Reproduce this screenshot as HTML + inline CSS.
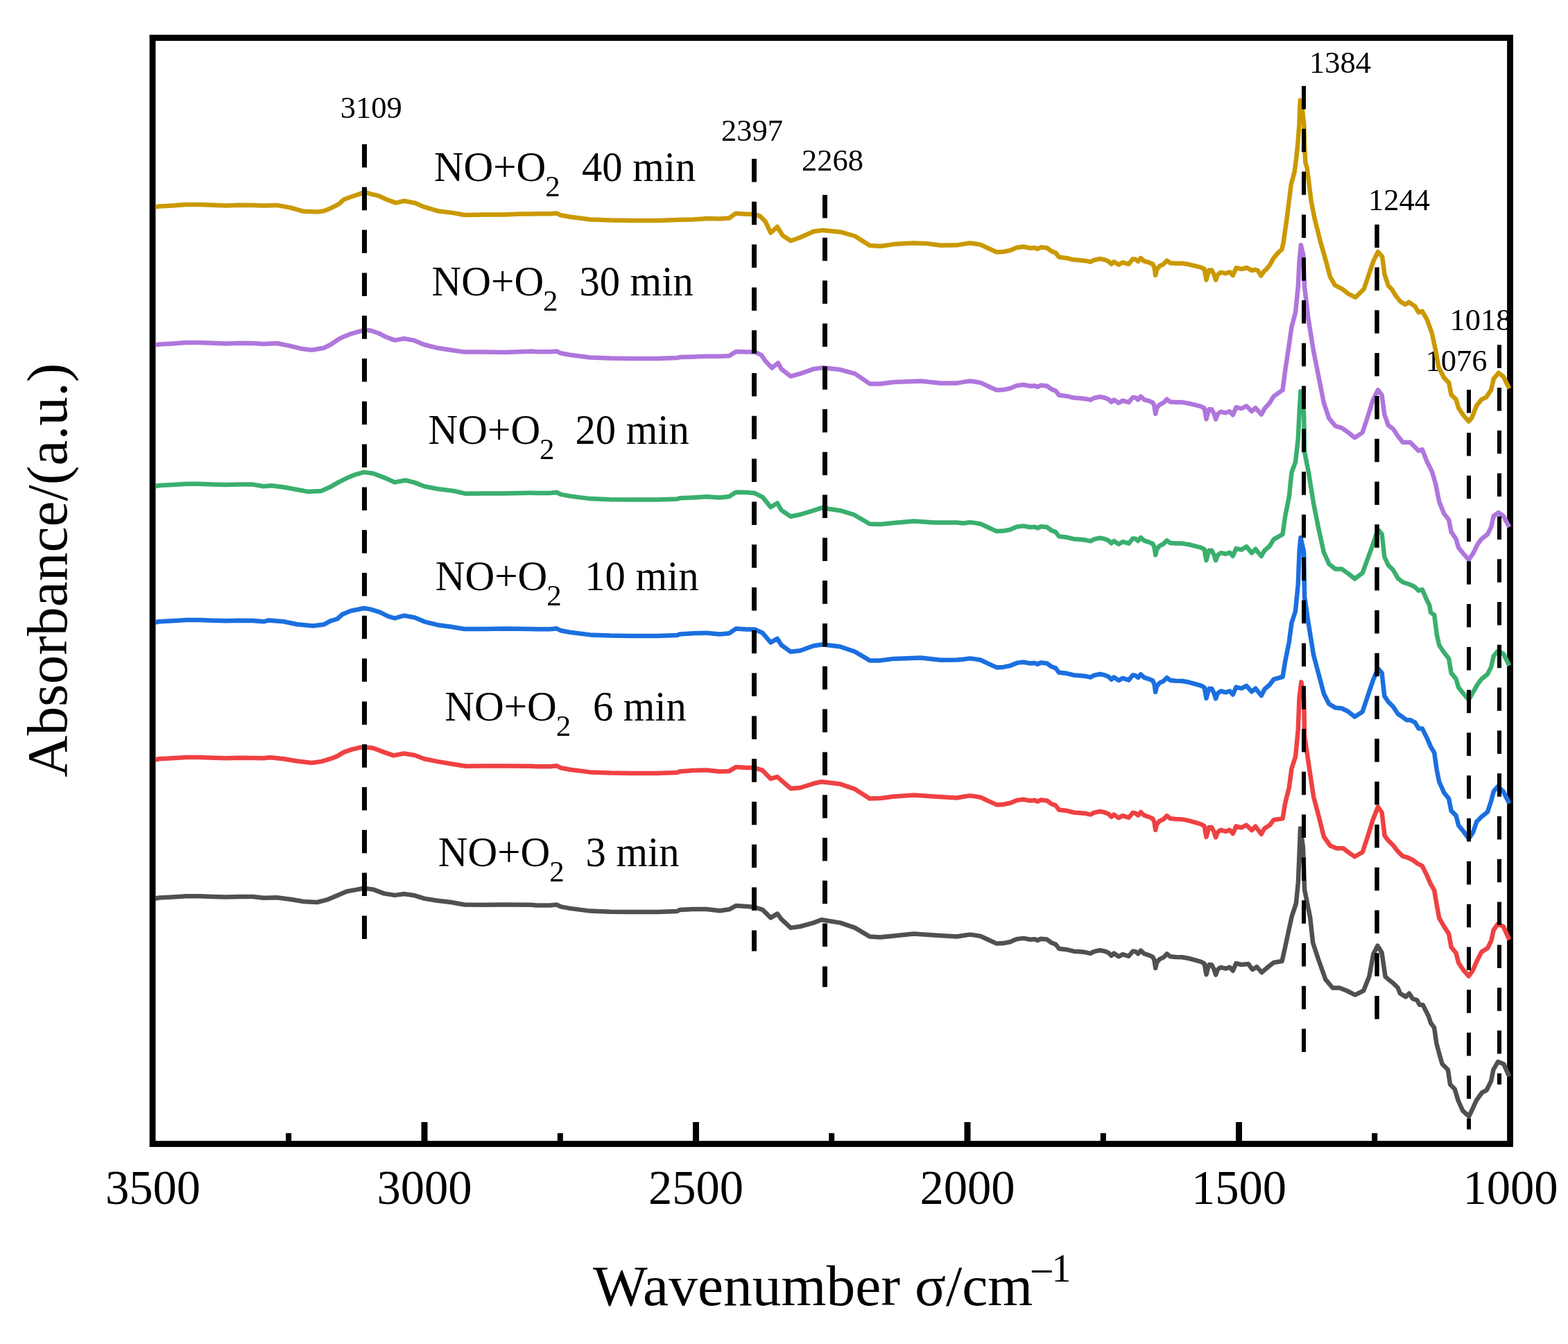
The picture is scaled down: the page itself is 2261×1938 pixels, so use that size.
<!DOCTYPE html>
<html><head><meta charset="utf-8"><title>FTIR spectra</title>
<style>html,body{margin:0;padding:0;background:#fff;}svg{display:block;}text{font-family:'Liberation Serif','Times New Roman',serif;fill:#000;}</style>
</head><body>
<svg width="2261" height="1938" viewBox="0 0 2261 1938">
<rect x="0" y="0" width="2261" height="1938" fill="#fff"/>
<defs><clipPath id="pc"><rect x="224" y="59" width="1955" height="1586"/></clipPath></defs>
<rect x="220" y="54.5" width="1957.5" height="1595" fill="none" stroke="#000" stroke-width="8.8"/>
<text transform="translate(625.7,261.4) scale(0.97,1)" font-size="61.0">NO+O</text>
<text x="786.2" y="283.4" font-size="43">2</text>
<text transform="translate(839.1,261.4) scale(0.96,1)" font-size="61.0">40 min</text>
<text transform="translate(622.6,426.4) scale(0.97,1)" font-size="61.0">NO+O</text>
<text x="783.1" y="448.4" font-size="43">2</text>
<text transform="translate(835.4,426.4) scale(0.96,1)" font-size="61.0">30 min</text>
<text transform="translate(617.6,640.4) scale(0.97,1)" font-size="61.0">NO+O</text>
<text x="778.1" y="662.4" font-size="43">2</text>
<text transform="translate(829.5,640.4) scale(0.96,1)" font-size="61.0">20 min</text>
<text transform="translate(627.7,851.2) scale(0.97,1)" font-size="61.0">NO+O</text>
<text x="788.2" y="873.2" font-size="43">2</text>
<text transform="translate(843.2,851.2) scale(0.96,1)" font-size="61.0">10 min</text>
<text transform="translate(641.3,1038.8) scale(0.97,1)" font-size="61.0">NO+O</text>
<text x="801.8" y="1060.8" font-size="43">2</text>
<text transform="translate(854.9,1038.8) scale(0.96,1)" font-size="61.0">6 min</text>
<text transform="translate(631.7,1249.4) scale(0.97,1)" font-size="61.0">NO+O</text>
<text x="792.2" y="1271.4" font-size="43">2</text>
<text transform="translate(844.5,1249.4) scale(0.96,1)" font-size="61.0">3 min</text>
<text x="490.8" y="170.0" font-size="44.5">3109</text>
<text x="1040.0" y="203.4" font-size="44.5">2397</text>
<text x="1156.0" y="246.3" font-size="44.5">2268</text>
<text x="1887.9" y="105.1" font-size="44.5">1384</text>
<text x="1972.9" y="302.9" font-size="44.5">1244</text>
<text x="2055.6" y="535.0" font-size="44.5">1076</text>
<text x="2090.5" y="475.7" font-size="44.5">1018</text>
<g clip-path="url(#pc)" fill="none" stroke-width="6.5" stroke-linejoin="round" stroke-linecap="butt">
<polyline stroke="#CA9900" points="220.0,299.3 229.7,297.4 249.0,296.4 268.3,295.1 287.6,295.1 306.9,295.8 326.2,296.4 345.5,295.8 364.8,296.0 380.0,296.5 399.3,295.9 418.6,299.4 437.9,304.8 457.2,305.6 466.9,304.2 476.5,300.4 488.1,294.6 495.8,287.8 505.5,284.0 519.0,279.7 525.8,276.6 534.4,279.7 546.0,282.4 557.6,287.8 571.1,292.6 582.7,289.7 598.1,292.6 611.7,298.4 631.0,304.2 654.1,307.1 669.6,310.0 698.5,309.4 727.5,309.4 750.0,308.6 773.7,308.3 793.1,308.3 802.7,307.4 808.5,310.3 822.0,312.8 851.0,316.5 879.9,317.6 908.9,318.0 947.5,318.0 976.4,317.0 999.3,316.4 1018.6,315.1 1037.9,315.4 1051.4,314.5 1061.1,307.7 1076.5,308.7 1088.1,308.7 1095.8,311.6 1103.6,319.3 1111.3,335.7 1120.9,327.0 1128.6,339.6 1140.2,347.3 1153.7,342.5 1173.1,333.8 1186.6,331.9 1211.7,334.4 1232.9,340.5 1254.1,354.1 1269.6,355.0 1288.9,352.1 1317.8,350.6 1337.1,351.2 1356.4,353.7 1379.3,353.6 1389.0,351.9 1398.6,350.5 1406.3,351.5 1414.1,352.9 1427.6,359.2 1437.2,363.5 1446.9,363.0 1456.5,361.1 1466.2,357.0 1475.8,355.8 1485.5,357.7 1492.2,357.2 1496.1,358.9 1500.9,356.6 1509.6,357.5 1516.4,362.4 1522.2,364.5 1527.0,370.8 1538.6,372.2 1548.2,374.6 1560.0,375.5 1565.8,376.2 1572.5,377.7 1577.4,375.0 1586.1,373.1 1592.8,374.5 1598.6,376.9 1602.5,380.8 1606.3,377.4 1613.1,381.8 1618.9,378.4 1627.6,380.8 1633.4,373.6 1637.2,373.8 1641.1,376.9 1644.9,372.1 1649.8,376.5 1656.5,378.4 1662.3,380.8 1664.5,385.7 1666.2,396.9 1668.0,388.7 1672.0,383.7 1677.8,380.8 1682.6,375.7 1687.4,379.3 1695.1,379.8 1704.8,379.8 1714.4,381.3 1724.1,383.7 1731.8,385.6 1736.6,388.0 1738.0,395.7 1739.5,403.7 1741.5,395.7 1743.4,389.5 1747.3,389.5 1750.5,395.7 1753.1,403.7 1755.5,396.7 1757.9,394.3 1760.5,392.7 1767.4,394.3 1773.2,392.2 1777.8,397.1 1782.4,386.2 1790.5,388.0 1798.0,386.0 1805.0,390.1 1809.6,388.9 1813.7,390.1 1818.3,397.6 1822.4,391.5 1826.4,387.8 1831.1,382.0 1836.3,372.4 1842.6,364.9 1848.4,359.7 1850.8,348.7 1855.5,315.8 1858.6,291.0 1861.7,266.2 1866.7,247.6 1869.1,229.1 1871.6,204.3 1873.5,179.5 1874.3,155.0 1875.0,144.5 1877.8,158.0 1880.3,179.5 1881.2,215.0 1882.5,235.0 1884.6,241.5 1887.7,266.2 1890.8,291.0 1895.8,315.8 1902.0,340.5 1904.4,350.0 1911.0,373.0 1918.0,399.2 1925.0,411.4 1935.4,416.6 1944.2,423.6 1954.6,428.8 1966.8,416.6 1975.6,390.5 1980.9,375.4 1987.0,363.2 1993.2,370.1 1996.6,396.3 2001.9,412.0 2007.1,417.3 2012.4,426.0 2019.3,434.7 2026.3,439.1 2031.6,435.6 2040.3,441.7 2045.5,450.4 2050.8,448.7 2057.7,460.9 2064.7,480.1 2070.0,504.5 2074.3,529.0 2082.2,544.7 2089.1,551.6 2092.6,569.1 2099.6,576.1 2103.1,588.3 2110.1,598.8 2117.9,607.5 2122.3,602.3 2129.3,584.8 2136.3,576.1 2143.2,572.6 2150.2,562.1 2153.7,546.4 2160.7,537.7 2167.7,542.9 2176.4,560.4"/>
<polyline stroke="#AF76DC" points="220.0,498.3 229.7,496.4 249.0,495.4 268.3,494.1 287.6,494.1 306.9,494.8 326.2,495.4 345.5,494.8 364.8,495.0 380.0,496.0 399.3,495.0 418.6,498.9 434.1,502.7 449.5,504.7 466.9,501.8 476.5,497.0 488.1,489.2 495.8,485.4 505.5,481.5 519.0,477.6 526.7,475.7 534.4,476.7 546.0,480.5 557.6,486.3 569.2,490.6 582.7,488.3 596.2,490.6 611.7,497.0 631.0,501.8 650.3,504.7 669.6,507.6 698.5,507.6 727.5,508.0 766.1,506.6 773.7,507.3 793.1,507.3 802.7,506.4 808.5,509.3 822.0,511.8 851.0,515.5 879.9,516.6 908.9,517.0 947.5,517.0 976.4,516.0 980.0,515.1 999.3,514.4 1018.6,513.8 1037.9,513.8 1051.4,513.2 1061.1,507.0 1076.5,507.4 1088.1,507.4 1097.8,511.9 1103.6,520.5 1113.2,530.6 1121.9,523.4 1126.7,532.1 1140.2,542.7 1153.7,538.9 1173.1,532.1 1186.6,530.2 1211.7,533.1 1232.9,538.9 1254.1,553.4 1269.6,553.4 1288.9,551.0 1327.5,549.5 1356.4,552.4 1380.0,552.4 1389.0,550.9 1398.6,549.5 1406.3,550.5 1414.1,551.9 1427.6,558.2 1437.2,562.5 1446.9,562.0 1456.5,560.1 1466.2,556.0 1475.8,554.8 1485.5,556.7 1492.2,556.2 1496.1,557.9 1500.9,555.6 1509.6,556.5 1516.4,561.4 1522.2,563.5 1527.0,569.8 1538.6,571.2 1548.2,573.6 1560.0,574.5 1565.8,575.2 1572.5,576.7 1577.4,574.0 1586.1,572.1 1592.8,573.5 1598.6,575.9 1602.5,579.8 1606.3,576.5 1613.1,581.0 1618.9,577.6 1627.6,580.1 1633.4,573.0 1637.2,573.3 1641.1,576.4 1644.9,571.6 1649.8,576.1 1656.5,578.1 1662.3,580.6 1664.5,585.5 1666.2,596.7 1668.0,588.5 1672.0,583.6 1677.8,580.7 1682.6,575.7 1687.4,579.4 1695.1,580.0 1704.8,580.1 1714.4,581.7 1724.1,584.2 1731.8,586.2 1736.6,588.7 1738.0,596.4 1739.5,604.4 1741.5,596.4 1743.4,590.2 1747.3,590.3 1750.5,596.5 1753.1,604.6 1755.5,597.6 1757.9,595.2 1760.5,593.7 1767.4,595.3 1773.2,593.3 1777.8,598.3 1782.4,587.4 1790.0,589.2 1797.4,585.5 1804.9,593.0 1810.4,588.3 1818.8,597.6 1823.5,589.2 1830.9,580.9 1836.5,571.6 1849.5,562.3 1853.2,534.4 1858.8,497.3 1862.5,471.2 1868.0,450.8 1871.8,413.6 1873.6,376.5 1875.9,353.2 1879.2,367.2 1881.1,413.6 1886.6,460.1 1894.1,506.5 1901.5,543.7 1908.9,580.9 1916.4,603.2 1925.7,614.3 1935.0,617.1 1944.2,623.6 1953.5,631.1 1964.7,623.6 1972.1,601.3 1979.6,577.2 1987.0,562.3 1992.6,569.7 1996.3,597.6 2001.9,613.3 2008.9,618.5 2015.8,629.0 2022.8,637.7 2028.1,637.7 2033.3,637.7 2040.3,644.7 2045.5,649.9 2050.8,648.2 2057.7,665.7 2064.7,679.6 2070.0,697.1 2075.2,723.2 2082.2,740.7 2089.1,749.4 2092.6,766.9 2099.6,777.3 2103.1,789.6 2110.1,798.3 2117.9,807.0 2124.0,798.3 2131.0,784.3 2136.3,777.3 2145.0,770.4 2150.2,759.9 2153.7,744.2 2160.7,739.0 2167.7,744.2 2176.4,759.9"/>
<polyline stroke="#3AAF6E" points="220.0,701.9 229.7,700.0 249.0,699.0 268.3,697.7 287.6,697.7 306.9,698.4 326.2,699.0 345.5,698.4 364.8,698.6 380.0,701.2 391.6,700.2 409.0,702.5 428.3,706.0 443.7,708.9 463.0,707.9 476.5,702.1 488.1,695.4 499.7,689.6 511.3,684.7 524.8,680.9 538.3,682.8 553.7,688.6 569.2,695.4 584.6,692.5 598.1,695.9 611.7,701.2 631.0,705.0 654.1,707.9 671.5,711.8 698.5,711.4 727.5,711.4 766.1,710.8 773.7,710.9 793.1,710.9 802.7,710.0 808.5,712.9 822.0,715.4 851.0,719.1 879.9,720.2 908.9,720.6 947.5,720.6 976.4,719.6 980.0,718.2 999.3,717.4 1018.6,716.3 1037.9,717.4 1051.4,715.9 1061.1,709.7 1076.5,710.1 1088.1,711.1 1099.7,716.9 1111.3,731.3 1120.9,725.5 1126.7,735.6 1140.2,744.8 1153.7,742.0 1173.1,736.2 1184.6,732.3 1211.7,736.2 1231.0,742.0 1254.1,755.5 1269.6,756.0 1288.9,754.1 1317.8,751.6 1346.8,753.5 1380.0,753.5 1389.0,754.5 1398.6,753.1 1406.3,754.1 1414.1,755.5 1427.6,761.8 1437.2,766.1 1446.9,765.6 1456.5,763.7 1466.2,759.6 1475.8,758.4 1485.5,760.3 1492.2,759.8 1496.1,761.5 1500.9,759.2 1509.6,760.1 1516.4,765.0 1522.2,767.1 1527.0,773.4 1538.6,774.8 1548.2,777.2 1560.0,778.1 1565.8,778.8 1572.5,780.3 1577.4,777.6 1586.1,775.7 1592.8,777.1 1598.6,779.5 1602.5,783.4 1606.3,780.1 1613.1,784.6 1618.9,781.2 1627.6,783.7 1633.4,776.6 1637.2,776.8 1641.1,780.0 1644.9,775.2 1649.8,779.7 1656.5,781.7 1662.3,784.1 1664.5,789.1 1666.2,800.3 1668.0,792.1 1672.0,787.1 1677.8,784.3 1682.6,779.3 1687.4,782.9 1695.1,783.5 1704.8,783.6 1714.4,785.2 1724.1,787.7 1731.8,789.7 1736.6,792.2 1738.0,799.9 1739.5,807.9 1741.5,799.9 1743.4,793.8 1747.3,793.8 1750.5,800.1 1753.1,808.1 1755.5,801.1 1757.9,798.7 1760.5,797.2 1767.4,798.8 1773.2,796.8 1777.8,801.8 1782.4,790.9 1790.0,792.7 1797.4,788.1 1804.9,797.4 1810.4,791.8 1818.8,802.0 1823.5,793.7 1830.9,787.2 1836.5,777.9 1849.5,770.4 1853.2,744.4 1858.8,716.5 1862.5,681.2 1868.0,666.4 1871.8,632.9 1873.6,595.8 1875.5,564.2 1880.1,595.8 1881.1,651.5 1886.6,679.4 1894.1,725.8 1901.5,763.0 1908.9,796.5 1916.4,813.2 1925.7,820.6 1935.0,820.6 1944.2,827.1 1953.5,834.6 1964.7,826.2 1972.1,805.8 1979.6,785.3 1987.0,763.5 1992.6,770.0 1996.3,803.0 2001.9,815.0 2008.9,822.0 2015.8,834.2 2022.8,839.5 2033.3,843.0 2040.3,846.5 2045.5,851.7 2050.8,850.0 2057.7,865.7 2061.2,872.6 2063.0,883.1 2068.2,886.6 2071.7,914.5 2075.2,930.2 2082.2,940.7 2089.1,949.4 2092.6,970.4 2099.6,979.1 2103.1,991.3 2110.1,1000.0 2117.9,1008.8 2124.0,998.3 2131.0,986.1 2136.3,979.1 2145.0,972.1 2150.2,961.6 2153.7,945.9 2159.8,939.0 2167.7,942.4 2176.4,959.9"/>
<polyline stroke="#1B6FDF" points="220.0,898.2 229.7,896.3 249.0,895.3 268.3,894.0 287.6,894.0 306.9,894.7 326.2,895.3 345.5,894.7 364.8,894.9 380.0,896.3 387.7,894.4 409.0,896.3 428.3,900.2 451.4,902.5 466.9,900.6 476.5,895.4 486.2,892.5 493.9,885.7 505.5,880.9 515.1,879.0 524.8,877.0 534.4,878.6 548.0,882.8 559.5,888.6 569.2,891.5 582.7,887.6 598.1,890.5 611.7,896.3 631.0,901.2 650.3,903.7 669.6,907.0 698.5,907.0 727.5,906.4 766.1,907.0 773.7,907.2 793.1,907.2 802.7,906.3 808.5,909.2 822.0,911.7 851.0,915.4 879.9,916.5 908.9,916.9 947.5,916.9 976.4,915.9 980.0,914.4 999.3,913.2 1018.6,912.8 1037.9,914.4 1051.4,913.2 1061.1,906.6 1076.5,907.4 1088.1,907.4 1099.7,912.8 1111.3,926.3 1120.9,920.9 1126.7,930.2 1140.2,939.8 1153.7,938.3 1173.1,931.2 1186.6,929.2 1211.7,932.5 1232.9,939.8 1254.1,952.4 1269.6,952.4 1288.9,949.9 1327.5,948.5 1356.4,951.8 1380.0,951.4 1389.0,950.8 1398.6,949.4 1406.3,950.4 1414.1,951.8 1427.6,958.1 1437.2,962.4 1446.9,961.9 1456.5,960.0 1466.2,955.9 1475.8,954.7 1485.5,956.6 1492.2,956.1 1496.1,957.8 1500.9,955.5 1509.6,956.4 1516.4,961.3 1522.2,963.4 1527.0,969.7 1538.6,971.1 1548.2,973.5 1560.0,974.4 1565.8,975.1 1572.5,976.6 1577.4,973.9 1586.1,972.0 1592.8,973.4 1598.6,975.8 1602.5,979.8 1606.3,976.5 1613.1,981.1 1618.9,977.9 1627.6,980.6 1633.4,973.5 1637.2,973.9 1641.1,977.1 1644.9,972.4 1649.8,976.9 1656.5,979.1 1662.3,981.6 1664.5,986.6 1666.2,997.9 1668.0,989.7 1672.0,984.8 1677.8,982.1 1682.6,977.2 1687.4,980.9 1695.1,981.7 1704.8,982.0 1714.4,983.8 1724.1,986.5 1731.8,988.6 1736.6,991.1 1738.0,998.9 1739.5,1006.9 1741.5,999.0 1743.4,992.9 1747.3,993.0 1750.5,999.3 1753.1,1007.4 1755.5,1000.4 1757.9,998.1 1760.5,996.6 1767.4,998.4 1773.2,996.5 1777.8,1001.5 1782.4,990.8 1790.0,992.7 1797.4,989.0 1804.9,997.4 1810.4,992.7 1818.8,1003.0 1823.5,993.7 1830.9,987.2 1836.5,979.7 1849.5,976.0 1853.2,953.7 1858.8,925.8 1862.5,898.0 1868.0,881.2 1871.8,842.2 1873.6,795.8 1875.5,775.3 1880.1,795.8 1881.1,860.8 1886.6,898.0 1894.1,944.4 1901.5,972.3 1908.9,1000.2 1916.4,1015.0 1925.7,1020.6 1935.0,1021.5 1944.2,1026.2 1953.5,1033.6 1964.7,1026.2 1972.1,1003.9 1979.6,981.6 1987.0,964.0 1992.6,970.4 1996.3,1003.6 2001.9,1012.0 2008.9,1019.0 2015.8,1029.5 2021.1,1033.0 2028.1,1038.2 2033.3,1038.2 2040.3,1041.7 2045.5,1050.4 2050.8,1050.4 2057.7,1064.4 2063.0,1076.6 2068.2,1085.3 2071.7,1109.8 2075.2,1127.2 2082.2,1142.9 2089.1,1151.6 2092.6,1169.1 2099.6,1176.1 2103.1,1190.0 2110.1,1198.8 2117.9,1209.2 2124.0,1200.5 2129.3,1184.8 2136.3,1177.8 2145.0,1170.8 2150.2,1155.1 2153.7,1141.2 2159.8,1134.2 2167.7,1141.2 2176.4,1158.6"/>
<polyline stroke="#EF4142" points="220.0,1096.2 229.7,1094.3 249.0,1093.3 268.3,1092.0 287.6,1092.0 306.9,1092.7 326.2,1093.3 345.5,1092.7 364.8,1092.9 380.0,1093.3 389.7,1092.3 409.0,1094.2 428.3,1097.5 449.5,1100.0 463.0,1098.1 476.5,1094.2 486.2,1090.4 495.8,1084.6 507.4,1080.7 519.0,1077.8 526.7,1077.4 538.3,1078.8 553.7,1084.6 567.3,1089.4 582.7,1086.5 598.1,1089.0 611.7,1094.2 631.0,1098.1 654.1,1102.0 671.5,1104.8 698.5,1104.5 727.5,1104.5 766.1,1104.8 773.7,1105.2 793.1,1105.2 802.7,1104.3 808.5,1107.2 822.0,1109.7 851.0,1113.4 879.9,1114.5 908.9,1114.9 947.5,1114.9 976.4,1113.9 980.0,1112.4 999.3,1110.9 1018.6,1110.5 1037.9,1112.4 1051.4,1111.9 1061.1,1106.1 1076.5,1107.0 1088.1,1107.0 1099.7,1110.9 1111.3,1122.9 1120.9,1120.2 1126.7,1125.4 1140.2,1137.0 1153.7,1136.0 1173.1,1129.8 1184.6,1127.3 1211.7,1130.6 1232.9,1137.9 1254.1,1151.4 1269.6,1151.0 1288.9,1148.5 1317.8,1146.6 1346.8,1148.5 1380.0,1150.5 1389.0,1148.8 1398.6,1147.4 1406.3,1148.4 1414.1,1149.8 1427.6,1156.1 1437.2,1160.4 1446.9,1159.9 1456.5,1158.0 1466.2,1153.9 1475.8,1152.7 1485.5,1154.6 1492.2,1154.1 1496.1,1155.8 1500.9,1153.5 1509.6,1154.4 1516.4,1159.3 1522.2,1161.4 1527.0,1167.7 1538.6,1169.1 1548.2,1171.5 1560.0,1172.4 1565.8,1173.1 1572.5,1174.6 1577.4,1171.9 1586.1,1170.0 1592.8,1171.4 1598.6,1173.8 1602.5,1177.8 1606.3,1174.6 1613.1,1179.3 1618.9,1176.2 1627.6,1179.0 1633.4,1172.0 1637.2,1172.4 1641.1,1175.7 1644.9,1171.0 1649.8,1175.7 1656.5,1177.9 1662.3,1180.5 1664.5,1185.5 1666.2,1196.8 1668.0,1188.7 1672.0,1183.9 1677.8,1181.2 1682.6,1176.3 1687.4,1180.2 1695.1,1181.0 1704.8,1181.4 1714.4,1183.4 1724.1,1186.2 1731.8,1188.5 1736.6,1191.1 1738.0,1198.9 1739.5,1206.9 1741.5,1199.0 1743.4,1192.9 1747.3,1193.1 1750.5,1199.4 1753.1,1207.5 1755.5,1200.6 1757.9,1198.4 1760.5,1196.9 1767.4,1198.8 1773.2,1196.9 1777.8,1202.1 1782.4,1191.4 1790.0,1193.4 1797.4,1189.7 1804.9,1197.2 1810.4,1191.6 1818.8,1202.7 1823.5,1194.4 1830.9,1189.7 1836.5,1182.3 1849.5,1180.4 1853.2,1158.1 1858.8,1135.8 1862.5,1108.0 1868.0,1091.2 1871.8,1052.2 1873.6,1005.8 1876.4,983.5 1880.1,1005.8 1881.1,1061.5 1886.6,1098.7 1894.1,1148.8 1901.5,1176.7 1908.9,1206.5 1918.2,1219.5 1927.5,1223.2 1936.8,1223.2 1944.2,1228.8 1953.5,1235.3 1964.7,1228.8 1972.1,1206.5 1979.6,1182.3 1987.0,1163.5 1992.6,1171.5 1996.6,1205.0 2001.9,1212.0 2008.9,1219.0 2015.8,1227.7 2022.8,1234.7 2029.8,1236.5 2036.8,1239.9 2043.8,1245.2 2050.8,1248.7 2057.7,1262.6 2063.0,1274.9 2068.2,1283.6 2071.7,1304.5 2075.2,1323.7 2082.2,1335.9 2089.1,1346.4 2092.6,1365.6 2099.6,1374.3 2103.1,1388.3 2110.1,1398.8 2117.9,1407.5 2124.0,1398.8 2129.3,1386.5 2136.3,1372.6 2145.0,1367.3 2150.2,1356.9 2153.7,1341.2 2159.8,1332.4 2167.7,1335.9 2176.4,1355.1"/>
<polyline stroke="#505050" points="220.0,1296.4 229.7,1294.5 249.0,1293.5 268.3,1292.2 287.6,1292.2 306.9,1292.9 326.2,1293.5 345.5,1292.9 364.8,1293.1 380.0,1294.8 399.3,1294.2 418.6,1296.7 437.9,1300.0 457.2,1301.0 472.7,1297.1 488.1,1290.4 499.7,1285.5 515.1,1282.6 524.8,1280.7 538.3,1282.6 553.7,1288.4 569.2,1290.9 582.7,1289.0 598.1,1291.3 611.7,1295.6 631.0,1298.7 650.3,1301.0 669.6,1304.5 698.5,1304.8 727.5,1304.5 766.1,1304.8 773.7,1305.4 793.1,1305.4 802.7,1304.5 808.5,1307.4 822.0,1309.9 851.0,1313.6 879.9,1314.7 908.9,1315.1 947.5,1315.1 976.4,1314.1 980.0,1311.9 999.3,1310.9 1018.6,1310.9 1037.9,1313.2 1051.4,1311.3 1061.1,1306.1 1076.5,1307.0 1088.1,1308.0 1099.7,1311.9 1111.3,1323.4 1120.9,1317.6 1126.7,1325.4 1140.2,1337.9 1153.7,1336.0 1173.1,1330.6 1184.6,1326.3 1211.7,1330.6 1232.9,1337.9 1254.1,1350.5 1269.6,1351.4 1288.9,1349.5 1317.8,1346.6 1346.8,1348.5 1380.0,1350.5 1389.0,1349.0 1398.6,1347.6 1406.3,1348.6 1414.1,1350.0 1427.6,1356.3 1437.2,1360.6 1446.9,1360.1 1456.5,1358.2 1466.2,1354.1 1475.8,1352.9 1485.5,1354.8 1492.2,1354.3 1496.1,1356.0 1500.9,1353.7 1509.6,1354.6 1516.4,1359.5 1522.2,1361.6 1527.0,1367.9 1538.6,1369.3 1548.2,1371.7 1560.0,1372.6 1565.8,1373.3 1572.5,1374.8 1577.4,1372.1 1586.1,1370.2 1592.8,1371.6 1598.6,1374.0 1602.5,1378.0 1606.3,1374.7 1613.1,1379.3 1618.9,1376.1 1627.6,1378.8 1633.4,1371.8 1637.2,1372.1 1641.1,1375.3 1644.9,1370.6 1649.8,1375.2 1656.5,1377.3 1662.3,1379.9 1664.5,1384.8 1666.2,1396.1 1668.0,1388.0 1672.0,1383.1 1677.8,1380.4 1682.6,1375.4 1687.4,1379.2 1695.1,1379.9 1704.8,1380.2 1714.4,1382.0 1724.1,1384.7 1731.8,1386.9 1736.6,1389.4 1738.0,1397.2 1739.5,1405.2 1741.5,1397.3 1743.4,1391.1 1747.3,1391.3 1750.5,1397.6 1753.1,1405.6 1755.5,1398.7 1757.9,1396.4 1760.5,1394.9 1767.4,1396.7 1773.2,1394.8 1777.8,1399.8 1782.4,1389.1 1790.0,1391.0 1800.0,1390.0 1806.1,1398.1 1812.2,1394.1 1819.3,1402.2 1826.3,1396.1 1836.5,1388.0 1848.6,1386.0 1852.7,1367.7 1858.8,1339.4 1862.8,1321.1 1868.9,1302.9 1871.9,1272.5 1874.0,1221.8 1875.0,1194.5 1879.0,1221.8 1881.1,1282.6 1889.2,1323.2 1893.2,1359.6 1901.3,1384.0 1911.4,1412.3 1921.6,1424.5 1931.7,1424.5 1941.8,1428.5 1954.0,1434.6 1966.2,1428.5 1974.3,1408.3 1980.3,1375.8 1986.4,1363.7 1992.5,1373.8 1997.6,1408.3 2000.8,1411.2 2009.0,1417.7 2015.6,1424.3 2018.9,1432.5 2027.1,1437.4 2032.0,1432.5 2036.9,1439.9 2043.5,1442.4 2046.8,1448.9 2051.7,1448.9 2056.6,1458.8 2059.9,1465.3 2063.2,1475.2 2068.1,1481.7 2071.4,1504.7 2076.3,1522.8 2079.6,1534.2 2087.8,1542.5 2091.1,1563.8 2097.6,1570.3 2102.6,1586.8 2109.1,1601.5 2118.1,1609.7 2122.2,1601.5 2128.8,1586.8 2137.0,1575.3 2143.6,1572.0 2150.1,1558.9 2153.4,1542.5 2160.0,1531.0 2168.2,1534.2 2176.4,1552.3"/>
</g>
<g stroke="#000" fill="none">
<line x1="525.5" y1="208.0" x2="525.5" y2="1354.0" stroke-width="7.0" stroke-dasharray="33.5 28.3"/>
<line x1="1087.5" y1="229.0" x2="1087.5" y2="1371.5" stroke-width="7.0" stroke-dasharray="33.5 28.3"/>
<line x1="1189.5" y1="281.0" x2="1189.5" y2="1423.2" stroke-width="7.0" stroke-dasharray="33.5 28.3"/>
<line x1="1880.0" y1="124.0" x2="1880.0" y2="1518.0" stroke-width="6.0" stroke-dasharray="33.5 28.3"/>
<line x1="1985.5" y1="323.7" x2="1985.5" y2="1469.4" stroke-width="6.5" stroke-dasharray="33.5 28.3"/>
<line x1="2118.0" y1="562.1" x2="2118.0" y2="1628.6" stroke-width="6.0" stroke-dasharray="33.5 28.3"/>
<line x1="2162.0" y1="497.2" x2="2162.0" y2="1563.8" stroke-width="6.0" stroke-dasharray="33.5 28.3"/>
</g>
<rect x="412.2" y="1634" width="8" height="12" fill="#000"/><rect x="607.5" y="1618" width="9" height="28" fill="#000"/><rect x="803.8" y="1634" width="8" height="12" fill="#000"/><rect x="999.0" y="1618" width="9" height="28" fill="#000"/><rect x="1195.2" y="1634" width="8" height="12" fill="#000"/><rect x="1390.5" y="1618" width="9" height="28" fill="#000"/><rect x="1586.8" y="1634" width="8" height="12" fill="#000"/><rect x="1782.0" y="1618" width="9" height="28" fill="#000"/><rect x="1978.2" y="1634" width="8" height="12" fill="#000"/>
<text transform="translate(220.5,1736) scale(0.98,1)" font-size="70" text-anchor="middle">3500</text>
<text transform="translate(612.0,1736) scale(0.98,1)" font-size="70" text-anchor="middle">3000</text>
<text transform="translate(1003.5,1736) scale(0.98,1)" font-size="70" text-anchor="middle">2500</text>
<text transform="translate(1395.0,1736) scale(0.98,1)" font-size="70" text-anchor="middle">2000</text>
<text transform="translate(1786.5,1736) scale(0.98,1)" font-size="70" text-anchor="middle">1500</text>
<text transform="translate(2178.0,1736) scale(0.98,1)" font-size="70" text-anchor="middle">1000</text>
<text x="855" y="1882" font-size="83.5">Wavenumber σ/cm</text>
<text x="1484.7" y="1854" font-size="62">−</text>
<text x="1516.6" y="1848" font-size="56">1</text>
<text transform="translate(96,1120.8) rotate(-90)" font-size="83.4">Absorbance/(a.u.)</text>
</svg></body></html>
